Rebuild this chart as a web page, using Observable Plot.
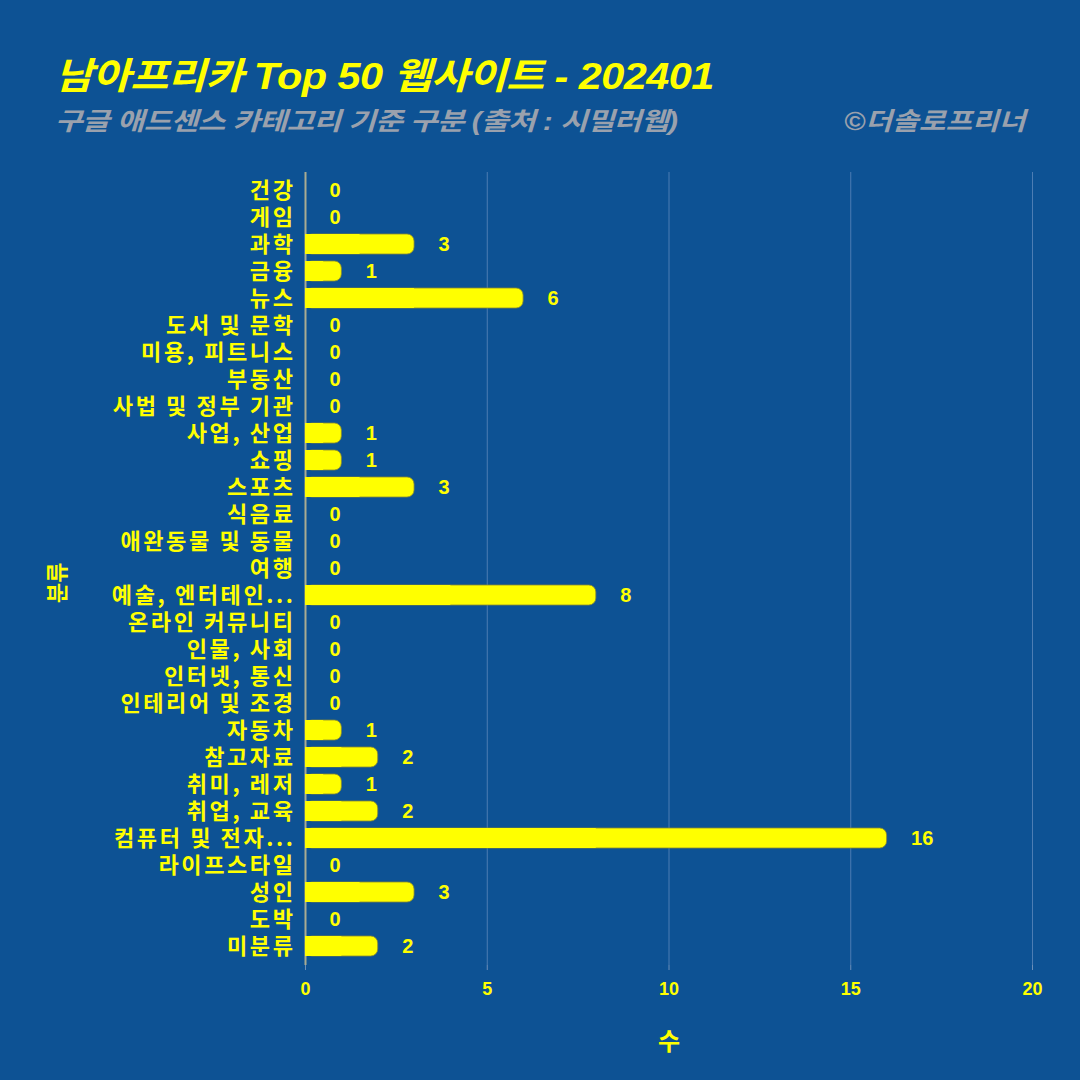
<!DOCTYPE html>
<html>
<head>
<meta charset="utf-8">
<script src="https://cdn.jsdelivr.net/npm/d3@7"></script>
<script src="https://cdn.jsdelivr.net/npm/@observablehq/plot@0.6"></script>
<style>
  html, body { margin:0; padding:0; background:#0d5294; }
  #wrap { position:relative; width:1080px; height:1080px; background:#0d5294; overflow:hidden; }
  .title { position:absolute; left:55px; top:46px; font-family:"Liberation Sans","Noto Sans CJK KR",sans-serif; font-weight:700; font-style:italic; font-size:37px; color:#ffff00; white-space:nowrap; letter-spacing:-0.5px; transform:scaleX(1.12); transform-origin:left top; }
  .sub { position:absolute; left:55px; top:101px; font-family:"Liberation Sans","Noto Sans CJK KR",sans-serif; font-style:italic; font-weight:700; font-size:25px; color:#9aa1ad; white-space:nowrap; letter-spacing:-0.5px; transform:scaleX(1.2); transform-origin:left top; }
  .copy { position:absolute; right:55px; top:101px; font-family:"Liberation Sans","Noto Sans CJK KR",sans-serif; font-style:italic; font-weight:700; font-size:25px; color:#9aa1ad; white-space:nowrap; transform:scaleX(1.16); transform-origin:right top; }
  #chart { position:absolute; left:0; top:0; }
</style>
</head>
<body>
<div id="wrap">
  <div id="chart"></div>
  <div class="title">남아프리카 Top 50 웹사이트 - 202401</div>
  <div class="sub">구글 애드센스 카테고리 기준 구분 (출처 : 시밀러웹)</div>
  <div class="copy">©더솔로프리너</div>
</div>
<script>
const categories = ["건강","게임","과학","금융","뉴스","도서 및 문학","미용, 피트니스","부동산","사법 및 정부 기관","사업, 산업","쇼핑","스포츠","식음료","애완동물 및 동물","여행","예술, 엔터테인...","온라인 커뮤니티","인물, 사회","인터넷, 통신","인테리어 및 조경","자동차","참고자료","취미, 레저","취업, 교육","컴퓨터 및 전자...","라이프스타일","성인","도박","미분류"];
const counts = [0,0,3,1,6,0,0,0,0,1,1,3,0,0,0,8,0,0,0,0,1,2,1,2,16,0,3,0,2];
const xTicks = [0,5,10,15,20];
const xTitle = "수";
const yTitle = "분류";

const data = categories.map((c, i) => ({cat: c, value: counts[i]}));
const yellow = "#ffff00";
const korFont = "'Noto Sans CJK KR','Liberation Sans',sans-serif";

const chart = Plot.plot({
  width: 1080,
  height: 1080,
  marginLeft: 305,
  marginRight: 48,
  marginTop: 172,
  marginBottom: 115,
  style: {background: "transparent", color: yellow, fontFamily: korFont, overflow: "visible"},
  x: {domain: [0, 20]},
  y: {domain: categories, padding: 0.25},
  marks: [
    Plot.gridX(xTicks.filter(d => d > 0), {stroke: "#4d7db3", strokeOpacity: 1, strokeWidth: 1}),
    Plot.ruleX([0], {stroke: "#a9ab92", strokeWidth: 2}),
    Plot.barX(data, {y: "cat", x: "value", fill: yellow, stroke: "#8a8a30", strokeWidth: 0.8, rx: 7}),
    Plot.barX(data, {y: "cat", x1: 0, x2: d => d.value / 2, fill: yellow}),
    Plot.text(data, {y: "cat", x: "value", text: d => String(d.value), dx: 24, textAnchor: "start", fill: yellow, fontSize: 20, fontWeight: 700, fontFamily: "'Liberation Sans',sans-serif"}),
    Plot.axisX({ticks: xTicks, tickSize: 5, stroke: "#6d8fb8", tickPadding: 12, fontSize: 18, fontWeight: 700, fill: yellow, label: null, fontFamily: "'Liberation Sans',sans-serif"}),
    Plot.axisY({tickSize: 0, tickPadding: 10, fontSize: 22, fontWeight: 700, fill: yellow, label: null, fontFamily: korFont}),
    Plot.text([xTitle], {frameAnchor: "bottom", dy: 84, fill: yellow, fontSize: 24, fontWeight: 700, fontFamily: korFont}),
    Plot.text([yTitle], {frameAnchor: "left", dx: -248, dy: 34, rotate: -90, fill: yellow, fontSize: 22, fontWeight: 700, fontFamily: korFont})
  ]
});
d3.select(chart).selectAll("g[aria-label='y-axis tick label'] text").attr("letter-spacing", "2.6px");
document.getElementById("chart").appendChild(chart);
</script>
</body>
</html>
